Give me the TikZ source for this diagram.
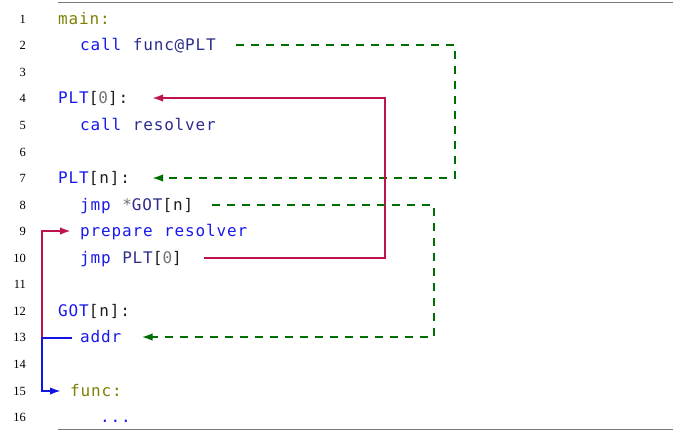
\documentclass[tikz,border=0pt]{standalone}
\usepackage{fontspec}
\setmonofont{DejaVu Sans Mono}[LetterSpace=5.4,WordSpace={1.09,0,0}]
\newfontfamily\numfont{Liberation Serif}
\usetikzlibrary{arrows.meta}
\definecolor{kwblue}{RGB}{25,25,235}
\definecolor{idnavy}{RGB}{45,45,140}
\definecolor{lblolive}{RGB}{128,128,0}
\definecolor{numgray}{RGB}{115,115,115}
\definecolor{txtblack}{RGB}{30,30,30}
\definecolor{arrgreen}{RGB}{0,110,0}
\definecolor{arrred}{RGB}{190,20,75}
\definecolor{arrblue}{RGB}{20,20,225}
\definecolor{rulegray}{RGB}{120,120,120}
\newcommand\cKw[1]{\textcolor{kwblue}{#1}}
\newcommand\cId[1]{\textcolor{idnavy}{#1}}
\newcommand\cLb[1]{\textcolor{lblolive}{#1}}
\newcommand\cGr[1]{\textcolor{numgray}{#1}}
\newcommand\cBk[1]{\textcolor{txtblack}{#1}}
\tikzset{
  code/.style={anchor=base west, inner sep=0pt, font=\ttfamily\fontsize{16}{16}\selectfont},
  lnum/.style={anchor=base east, inner sep=0pt, text=black, font=\numfont\fontsize{12.5}{12.5}\selectfont},
  tipstyle/.style={-{Latex[length=11pt,width=7.5pt]}},
  jumpgreen/.style={draw=arrgreen, line width=2pt, dash pattern=on 8pt off 7pt, line join=miter, tipstyle},
  jumpred/.style={draw=arrred, line width=2pt, line join=miter, tipstyle},
  jumpblue/.style={draw=arrblue, line width=2pt, line join=miter, tipstyle},
  rulestyle/.style={draw=rulegray},
}
\begin{document}
\begin{tikzpicture}[x=1pt,y=-1pt]
\useasboundingbox (0,0) rectangle (673,431);
% rules
\coordinate (rt1) at (58,2.5);
\coordinate (rt2) at (673,2.5);
\coordinate (rb1) at (58,429.5);
\coordinate (rb2) at (673,429.5);
\draw[rulestyle, line width=1.3pt] (rt1) -- (rt2);
\draw[rulestyle, line width=0.9pt] (rb1) -- (rb2);
% line numbers
\node[lnum] (n1)  at (26,23.3)  {1};
\node[lnum] (n2)  at (26,49.85) {2};
\node[lnum] (n3)  at (26,76.4)  {3};
\node[lnum] (n4)  at (26,102.95){4};
\node[lnum] (n5)  at (26,129.5) {5};
\node[lnum] (n6)  at (26,156.05){6};
\node[lnum] (n7)  at (26,182.6) {7};
\node[lnum] (n8)  at (26,209.15){8};
\node[lnum] (n9)  at (26,235.7) {9};
\node[lnum] (n10) at (26,262.25){10};
\node[lnum] (n11) at (26,288.8) {11};
\node[lnum] (n12) at (26,315.35){12};
\node[lnum] (n13) at (26,341.9) {13};
\node[lnum] (n14) at (26,368.45){14};
\node[lnum] (n15) at (26,395.0) {15};
\node[lnum] (n16) at (26,421.55){16};
% code lines
\node[code] (l1)  at (58,24.3)   {\cLb{main:}};
\node[code] (l2)  at (80,50.85)  {\cKw{call} \cId{func@PLT}};
\node[code] (l4)  at (58,103.95) {\cKw{PLT}\cBk{[}\cGr{0}\cBk{]:}};
\node[code] (l5)  at (80,130.5)  {\cKw{call} \cId{resolver}};
\node[code] (l7)  at (58,183.6)  {\cKw{PLT}\cBk{[n]:}};
\node[code] (l8)  at (80,210.15) {\cKw{jmp} \cGr{*}\cId{GOT}\cBk{[n]}};
\node[code] (l9)  at (80,236.7)  {\cKw{prepare resolver}};
\node[code] (l10) at (80,263.25) {\cKw{jmp} \cId{PLT}\cBk{[}\cGr{0}\cBk{]}};
\node[code] (l12) at (58,316.35) {\cKw{GOT}\cBk{[n]:}};
\node[code] (l13) at (80,342.9)  {\cKw{addr}};
\node[code] (l15) at (70,396.0)  {\cLb{func:}};
\node[code] (l16) at (100,422.55){\cKw{...}};
% connector coordinates
\coordinate (g1s) at (236,45);
\coordinate (g1c) at (455,45);
\coordinate (g1v) at (455,178);
\coordinate (g1e) at (152,178);
\coordinate (r1s) at (204,258);
\coordinate (r1c) at (385,258);
\coordinate (r1v) at (385,98);
\coordinate (r1e) at (152,98);
\coordinate (g2s) at (212,205);
\coordinate (g2c) at (434,205);
\coordinate (g2v) at (434,337);
\coordinate (g2e) at (141.5,337);
\coordinate (r2s) at (42,338);
\coordinate (r2v) at (42,231);
\coordinate (r2e) at (71,231);
\coordinate (b1s) at (72,338);
\coordinate (b1c) at (42,338);
\coordinate (b1v) at (42,391);
\coordinate (b1e) at (61,391);
% connectors
\draw[jumpgreen] (g1s) -- (g1c) -- (g1v) -- (g1e);
\draw[jumpred] (r1s) -- (r1c) -- (r1v) -- (r1e);
\draw[jumpgreen] (g2s) -- (g2c) -- (g2v) -- (g2e);
\draw[jumpred] (r2s) -- (r2v) -- (r2e);
\draw[jumpblue] (b1s) -- (b1c) -- (b1v) -- (b1e);
\end{tikzpicture}
\end{document}
